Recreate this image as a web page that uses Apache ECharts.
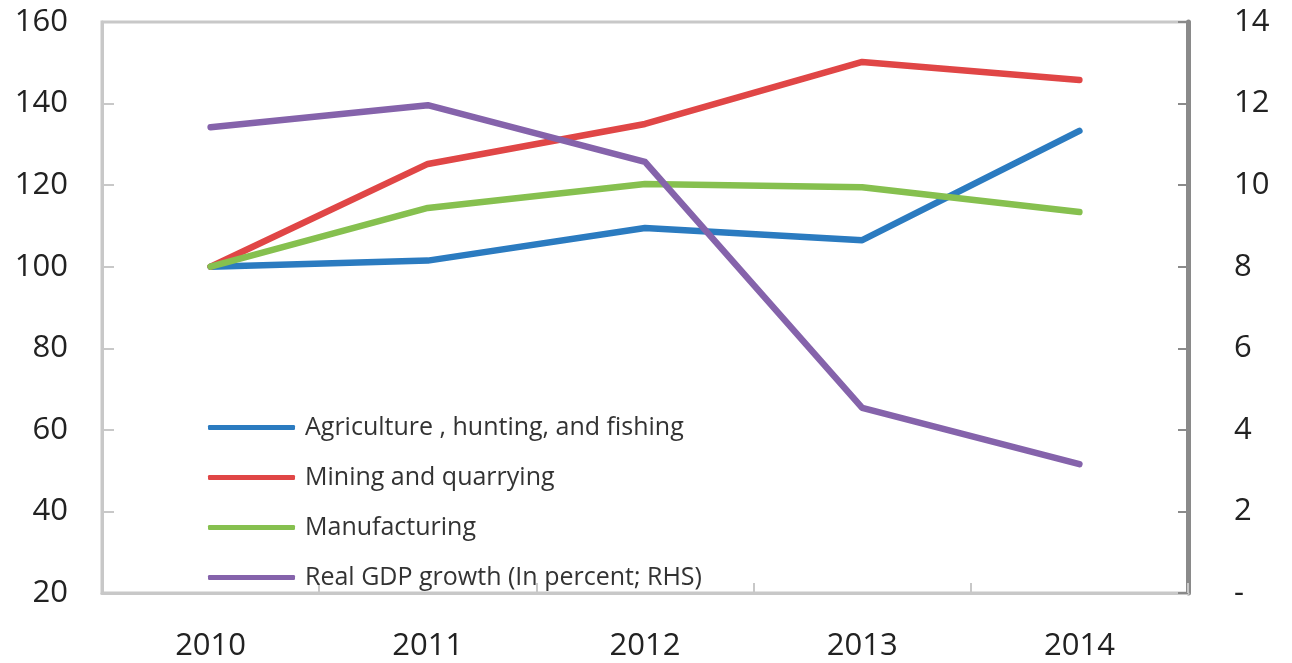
<!DOCTYPE html>
<html>
<head>
<meta charset="utf-8">
<script src="https://cdn.jsdelivr.net/npm/echarts@6/dist/echarts.min.js"></script>
<style>html,body{margin:0;padding:0;background:#fff;}#c{width:1292px;height:663px;}</style>
</head>
<body>
<div id="c"></div>
<script>
var categories = ['2010', '2011', '2012', '2013', '2014'];
var agriculture = [100, 101.5, 109.5, 106.5, 133.3];
var mining = [100, 125.2, 135, 150.2, 145.8];
var manufacturing = [100, 114.4, 120.3, 119.5, 113.4];
var gdpGrowth = [11.42, 11.96, 10.57, 4.54, 3.16];
var seriesNames = ['Agriculture , hunting, and fishing', 'Mining and quarrying', 'Manufacturing', 'Real GDP growth (In percent; RHS)'];
var colors = ['#2b7bc0', '#e04646', '#86c04f', '#8563ab'];

var chart = echarts.init(document.getElementById('c'));
var fontFam = '"Open Sans", "Noto Sans", sans-serif';
function lineSeries(name, data, color, yIdx) {
  return {
    name: name, type: 'line', data: data, yAxisIndex: yIdx,
    symbol: 'none', smooth: false,
    lineStyle: {color: color, width: 6.5, cap: 'round', join: 'round'},
    itemStyle: {color: color},
    z: 3
  };
}
chart.setOption({
  animation: false,
  backgroundColor: '#fff',
  color: colors,
  grid: {left: 102, right: 104, top: 22, bottom: 70, show: true, borderColor: '#c8c8c8', borderWidth: 3},
  legend: {
    orient: 'vertical', left: 203, top: 410,
    icon: 'roundRect', itemWidth: 87, itemHeight: 5, itemGap: 25,
    textStyle: {fontFamily: fontFam, fontSize: 25, color: '#333', lineHeight: 25, padding: [0, 0, 0, 5]},
    data: seriesNames
  },
  xAxis: {
    type: 'category', data: categories, boundaryGap: true,
    axisLine: {show: true, lineStyle: {color: '#c8c8c8', width: 3}},
    axisTick: {show: true, inside: true, length: 10, lineStyle: {color: '#c8c8c8', width: 2}},
    axisLabel: {fontFamily: fontFam, fontSize: 31, color: '#222', margin: 38},
    splitLine: {show: false}
  },
  yAxis: [
    {
      type: 'value', min: 20, max: 160, interval: 20, position: 'left',
      axisLine: {show: true, lineStyle: {color: '#c8c8c8', width: 3}},
      axisTick: {show: true, inside: true, length: 12, lineStyle: {color: '#c8c8c8', width: 2}},
      axisLabel: {fontFamily: fontFam, fontSize: 31, color: '#222', margin: 34},
      splitLine: {show: false}
    },
    {
      type: 'value', min: 0, max: 14, interval: 2, position: 'right',
      axisLine: {show: true, lineStyle: {color: '#8a8a8a', width: 5}},
      axisTick: {show: true, inside: true, length: 10, lineStyle: {color: '#8a8a8a', width: 2}},
      axisLabel: {fontFamily: fontFam, fontSize: 31, color: '#222', margin: 46,
        formatter: function (v) { return v === 0 ? '-' : String(v); }},
      splitLine: {show: false}
    }
  ],
  series: [
    lineSeries(seriesNames[0], agriculture, colors[0], 0),
    lineSeries(seriesNames[1], mining, colors[1], 0),
    lineSeries(seriesNames[2], manufacturing, colors[2], 0),
    lineSeries(seriesNames[3], gdpGrowth, colors[3], 1)
  ]
});
</script>
</body>
</html>
